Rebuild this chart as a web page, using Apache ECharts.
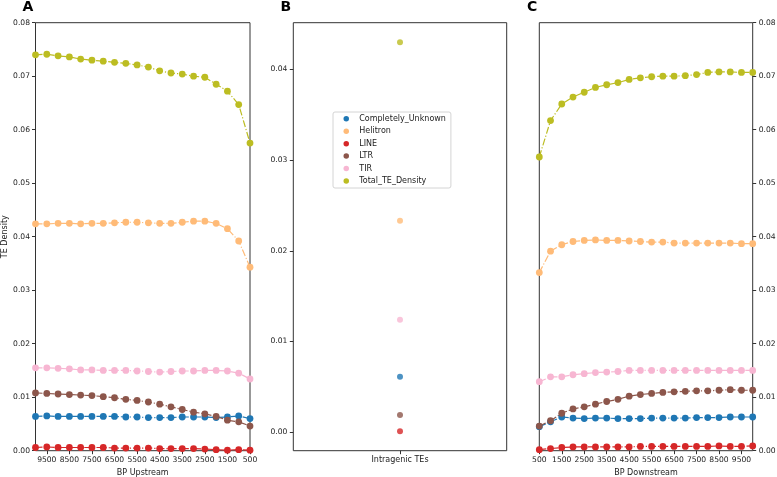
<!DOCTYPE html>
<html>
<head>
<meta charset="utf-8">
<script src="https://cdn.jsdelivr.net/npm/echarts@6/dist/echarts.min.js"></script>
<style>html,body{margin:0;padding:0;background:#fff}#c{width:777px;height:477px}</style>
</head>
<body>
<div id="c"></div>
<script>
// ---- data ----
const typeNames = ['Completely_Unknown', 'Helitron', 'LINE', 'LTR', 'TIR', 'Total_TE_Density'];
const upstreamBP = [10000, 9500, 9000, 8500, 8000, 7500, 7000, 6500, 6000, 5500, 5000, 4500, 4000, 3500, 3000, 2500, 2000, 1500, 1000, 500];
const downstreamBP = [500, 1000, 1500, 2000, 2500, 3000, 3500, 4000, 4500, 5000, 5500, 6000, 6500, 7000, 7500, 8000, 8500, 9000, 9500, 10000];
const upstreamTicks = [9500, 8500, 7500, 6500, 5500, 4500, 3500, 2500, 1500, 500];
const downstreamTicks = [500, 1500, 2500, 3500, 4500, 5500, 6500, 7500, 8500, 9500];
const densityTicksB = [0, 0.01, 0.02, 0.03, 0.04];

// Panel A: upstream (listed 10000 -> 500)
const unknownUp  = [0.0064,0.0065,0.0064,0.0064,0.0064,0.0064,0.0064,0.0064,0.0063,0.0063,0.0062,0.0062,0.0062,0.0063,0.0063,0.0063,0.0062,0.0063,0.0065,0.0060];
const helitronUp = [0.0424,0.0424,0.0425,0.0425,0.0424,0.0425,0.0425,0.0426,0.0427,0.0427,0.0426,0.0425,0.0425,0.0427,0.0429,0.0429,0.0425,0.0415,0.0392,0.0343];
const lineUp     = [0.0006,0.0007,0.0006,0.0006,0.0006,0.0006,0.0006,0.0005,0.0005,0.0005,0.0005,0.0004,0.0004,0.0004,0.0004,0.0003,0.0002,0.0001,0.0002,0.0001];
const ltrUp      = [0.0108,0.0107,0.0106,0.0105,0.0104,0.0103,0.0101,0.0099,0.0096,0.0094,0.0091,0.0087,0.0082,0.0077,0.0072,0.0069,0.0064,0.0057,0.0054,0.0046];
const tirUp      = [0.0155,0.0155,0.0154,0.0153,0.0151,0.0151,0.0150,0.0150,0.0150,0.0149,0.0148,0.0147,0.0148,0.0149,0.0149,0.0150,0.0150,0.0149,0.0145,0.0134];
const totalUp    = [0.0740,0.0741,0.0738,0.0736,0.0732,0.0730,0.0728,0.0726,0.0724,0.0721,0.0717,0.0710,0.0706,0.0704,0.0700,0.0698,0.0685,0.0672,0.0647,0.0575];

// Panel B: intragenic
const intragenicCategory = ['Intragenic TEs'];
const intragenicValues = [0.0061, 0.0233, 0.0001, 0.0019, 0.0124, 0.0430];

// Panel C: downstream (listed 500 -> 10000)
const unknownDown  = [0.0045,0.0054,0.0063,0.0061,0.0060,0.0061,0.0061,0.0060,0.0060,0.0060,0.0061,0.0061,0.0061,0.0061,0.0062,0.0062,0.0062,0.0063,0.0063,0.0063];
const helitronDown = [0.0333,0.0373,0.0385,0.0391,0.0393,0.0394,0.0393,0.0393,0.0392,0.0391,0.0390,0.0390,0.0388,0.0388,0.0388,0.0388,0.0388,0.0388,0.0387,0.0387];
const lineDown     = [0.0002,0.0004,0.0006,0.0007,0.0007,0.0007,0.0007,0.0007,0.0007,0.0008,0.0008,0.0008,0.0008,0.0008,0.0008,0.0008,0.0009,0.0008,0.0008,0.0009];
const ltrDown      = [0.0046,0.0056,0.0070,0.0078,0.0082,0.0087,0.0092,0.0096,0.0102,0.0105,0.0107,0.0109,0.0110,0.0111,0.0112,0.0112,0.0113,0.0114,0.0113,0.0113];
const tirDown      = [0.0129,0.0138,0.0138,0.0142,0.0144,0.0146,0.0147,0.0148,0.0150,0.0150,0.0150,0.0150,0.0150,0.0150,0.0150,0.0150,0.0150,0.0150,0.0150,0.0150];
const totalDown    = [0.0549,0.0617,0.0648,0.0661,0.0670,0.0679,0.0684,0.0688,0.0694,0.0697,0.0699,0.0700,0.0700,0.0701,0.0703,0.0707,0.0708,0.0708,0.0707,0.0707];

const colors = ['#1f77b4', '#ffbb78', '#d62728', '#8c564b', '#f7b6d2', '#bcbd22'];
const upSeries = [unknownUp, helitronUp, lineUp, ltrUp, tirUp, totalUp];
const downSeries = [unknownDown, helitronDown, lineDown, ltrDown, tirDown, totalDown];

// ---- chart ----
const FONT = 'DejaVu Sans';
const TXT = '#222';
const AX = '#333';
const TICKFS = 7.6;
const lbl = (extra) => Object.assign({ fontFamily: FONT, fontSize: TICKFS, color: TXT }, extra || {});
const nameStyle = { fontFamily: FONT, fontSize: 8, color: TXT };
const dashDot = [7, 2, 1.2, 2];

const series = [];
typeNames.forEach((name, k) => {
  series.push({
    name, type: 'line', xAxisIndex: 0, yAxisIndex: 0,
    data: upstreamBP.map((x, i) => [x, upSeries[k][i]]),
    symbol: 'circle', symbolSize: 6.8, clip: true,
    itemStyle: { color: colors[k] },
    lineStyle: { color: colors[k], width: 1.2, type: dashDot }
  });
});
typeNames.forEach((name, k) => {
  series.push({
    name, type: 'scatter', xAxisIndex: 1, yAxisIndex: 1,
    data: [[intragenicCategory[0], intragenicValues[k]]],
    symbol: 'circle', symbolSize: 6,
    itemStyle: { color: colors[k] }
  });
});
typeNames.forEach((name, k) => {
  series.push({
    name, type: 'line', xAxisIndex: 2, yAxisIndex: 2,
    data: downstreamBP.map((x, i) => [x, downSeries[k][i]]),
    symbol: 'circle', symbolSize: 6.8, clip: true,
    itemStyle: { color: colors[k] },
    lineStyle: { color: colors[k], width: 1.2, type: dashDot }
  });
});

const gridBase = { top: 22.7, height: 428, show: true, borderColor: AX, borderWidth: 1, backgroundColor: 'transparent', containLabel: false, outerBoundsMode: 'none' };
const tick = { show: true, length: 3.5, lineStyle: { color: AX, width: 1 } };
const noLine = { show: false, onZero: false };
const fmt2 = v => v.toFixed(2);
const fmtInt = v => String(v);

const option = {
  animation: false,
  backgroundColor: '#fff',
  textStyle: { fontFamily: FONT },
  grid: [
    Object.assign({ left: 35.5, width: 214.5 }, gridBase),
    Object.assign({ left: 293.3, width: 213.4 }, gridBase),
    Object.assign({ left: 539.3, width: 213.4 }, gridBase)
  ],
  xAxis: [
    { type: 'value', gridIndex: 0, min: 500, max: 10000, inverse: true,
      axisLine: noLine, splitLine: { show: false },
      axisTick: Object.assign({ customValues: upstreamTicks }, tick),
      axisLabel: lbl({ customValues: upstreamTicks, margin: 5.5, formatter: fmtInt, hideOverlap: false, interval: 0 }),
      name: 'BP Upstream', nameLocation: 'middle', nameGap: 16.5, nameTextStyle: nameStyle },
    { type: 'category', gridIndex: 1, data: intragenicCategory, boundaryGap: true,
      axisLine: noLine, splitLine: { show: false },
      axisTick: Object.assign({ alignWithLabel: true }, tick),
      axisLabel: lbl({ margin: 5.5, fontSize: 8 }) },
    { type: 'value', gridIndex: 2, min: 500, max: 10000,
      axisLine: noLine, splitLine: { show: false },
      axisTick: Object.assign({ customValues: downstreamTicks }, tick),
      axisLabel: lbl({ customValues: downstreamTicks, margin: 5.5, formatter: fmtInt, hideOverlap: false, interval: 0 }),
      name: 'BP Downstream', nameLocation: 'middle', nameGap: 16.5, nameTextStyle: nameStyle }
  ],
  yAxis: [
    { type: 'value', gridIndex: 0, min: 0, max: 0.08, interval: 0.01,
      axisLine: noLine, splitLine: { show: false }, axisTick: tick,
      axisLabel: lbl({ formatter: fmt2, margin: 5.5 }),
      name: 'TE Density', nameLocation: 'middle', nameRotate: 90, nameGap: 25, nameTextStyle: nameStyle },
    { type: 'value', gridIndex: 1, min: -0.00205, max: 0.04515,
      axisLine: noLine, splitLine: { show: false },
      axisTick: Object.assign({ customValues: densityTicksB }, tick),
      axisLabel: lbl({ customValues: densityTicksB, formatter: fmt2, margin: 6 }) },
    { type: 'value', gridIndex: 2, min: 0, max: 0.08, interval: 0.01, position: 'right',
      axisLine: noLine, splitLine: { show: false }, axisTick: tick,
      axisLabel: lbl({ formatter: fmt2, margin: 6 }) }
  ],
  legend: {
    data: typeNames, orient: 'vertical', left: 333, top: 112,
    icon: 'circle', itemWidth: 16, itemHeight: 5.5, itemGap: 0,
    padding: [0.5, 5, 0.8, 10.5], selectedMode: false,
    borderColor: '#d4d4d4', borderWidth: 1, borderRadius: 2, backgroundColor: '#fff',
    textStyle: { fontFamily: FONT, fontSize: 8, color: TXT, lineHeight: 12.45 }
  },
  graphic: [
    { type: 'text', left: 22.5, top: 0.5, style: { text: 'A', font: 'bold 14px "DejaVu Sans"', fill: '#000' } },
    { type: 'text', left: 280.5, top: 0.5, style: { text: 'B', font: 'bold 14px "DejaVu Sans"', fill: '#000' } },
    { type: 'text', left: 527, top: 0.5, style: { text: 'C', font: 'bold 14px "DejaVu Sans"', fill: '#000' } }
  ],
  series
};

const chart = echarts.init(document.getElementById('c'), null, { renderer: 'canvas' });
chart.setOption(option);
</script>
</body>
</html>
